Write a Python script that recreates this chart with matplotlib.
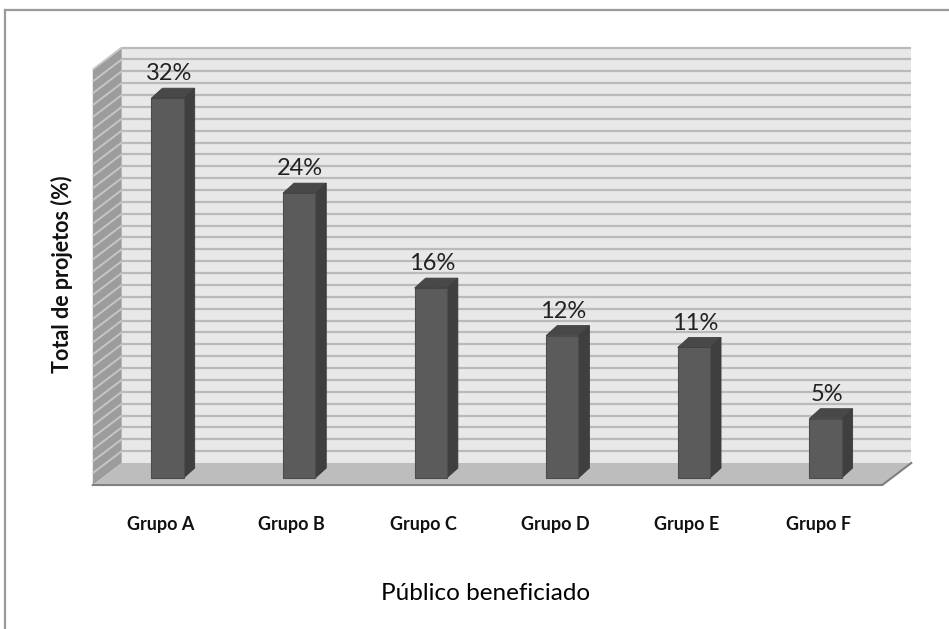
import matplotlib
matplotlib.use("Agg")
import matplotlib.pyplot as plt
from matplotlib.patches import Polygon
from matplotlib.lines import Line2D

# Data
categories = ["Grupo A", "Grupo B", "Grupo C", "Grupo D", "Grupo E", "Grupo F"]
values = [32, 24, 16, 12, 11, 5]
value_labels = ["32%", "24%", "16%", "12%", "11%", "5%"]
y_max = 35
x_title = "Público beneficiado"
y_title = "Total de projetos (%)"

# Oblique 3D geometry (category units, percent units)
BACK = (0.152, 1.264)     # back wall plane relative to the bar front plane
FRONT = (-0.068, -0.59)   # front edge of the floor
DEPTH = (0.084, 0.84)     # bar depth
BAR_W = 0.245
LEFT, RIGHT = -0.5, len(categories) - 0.5

W, H = 949, 629
fig = plt.figure(figsize=(W / 100, H / 100), dpi=100)
fig.patch.set_facecolor("white")
ax = fig.add_axes([0, 0, 1, 1])
ax.set_xlim(-1.273, 5.939)
ax.set_ylim(-12.72, 40.27)
ax.axis("off")

FONT = ["Lato", "DejaVu Sans"]

# Outer frame
fig.add_artist(Line2D([5 / W, 5 / W], [0, 1 - 10 / H], transform=fig.transFigure,
                      color="#9a9a9a", lw=1.6))
fig.add_artist(Line2D([5 / W, 1], [1 - 10 / H, 1 - 10 / H], transform=fig.transFigure,
                      color="#9a9a9a", lw=1.6))

# Back wall
bx, by = BACK
ax.add_patch(Polygon([(LEFT + bx, by), (RIGHT + bx, by), (RIGHT + bx, y_max + by),
                      (LEFT + bx, y_max + by)], closed=True, fc="#e8e8e8", ec="none", zorder=1))
# Side wall
fx, fy = FRONT
ax.add_patch(Polygon([(LEFT + fx, fy), (LEFT + bx, by), (LEFT + bx, y_max + by),
                      (LEFT + fx, y_max + fy)], closed=True, fc="#9c9c9c", ec="none", zorder=1))

# Gridlines on back wall and side wall
for v in range(1, y_max + 1):
    ax.plot([LEFT + bx, RIGHT + bx], [v + by, v + by], color="#bababa", lw=1.6,
            solid_capstyle="butt", zorder=2)
    ax.plot([LEFT + fx, LEFT + bx], [v + fy, v + by], color="#c6c6c6", lw=1.4,
            solid_capstyle="butt", zorder=2)

# Floor
ax.add_patch(Polygon([(LEFT + fx, fy), (RIGHT + fx, fy), (RIGHT + bx, by), (LEFT + bx, by)],
                     closed=True, fc="#bdbdbd", ec="none", zorder=3))
ax.plot([LEFT + fx, RIGHT + fx, RIGHT + bx], [fy, fy, by], color="#7f7f7f", lw=1.5, zorder=3)

# Bars
xs = list(range(len(categories)))
ax.bar(xs, values, width=BAR_W, color="#5b5b5b", edgecolor="#4c4c4c", linewidth=0.8, zorder=5)
dx, dy = DEPTH
for x, v, lab, cat in zip(xs, values, value_labels, categories):
    r = x + BAR_W / 2
    l = x - BAR_W / 2
    ax.add_patch(Polygon([(r, 0), (r + dx, dy), (r + dx, v + dy), (r, v)], closed=True,
                         fc="#3f3f3f", ec="#3a3a3a", lw=0.6, zorder=4))
    ax.add_patch(Polygon([(l, v), (r, v), (r + dx, v + dy), (l + dx, v + dy)], closed=True,
                         fc="#484848", ec="#404040", lw=0.6, zorder=6))
    ax.text(x + 0.01, v + dy + 0.65, lab, ha="center", va="baseline", fontsize=17,
            family=FONT, color="#222222", zorder=7)
    ax.text(x - 0.055, -3.88, cat, ha="center", va="center", fontsize=13,
            fontweight="bold", family=FONT, color="#111111", zorder=7)

# Axis titles
fig.text(62 / W, 1 - 274 / H, y_title, rotation=90, ha="center", va="center",
         fontsize=15.5, fontweight="bold", family=FONT, color="#111111")
fig.text(486 / W, 1 - 594 / H, x_title, ha="center", va="center",
         fontsize=17.5, family=FONT, color="#000000")

fig.savefig("out.png", dpi=100, facecolor="white")
